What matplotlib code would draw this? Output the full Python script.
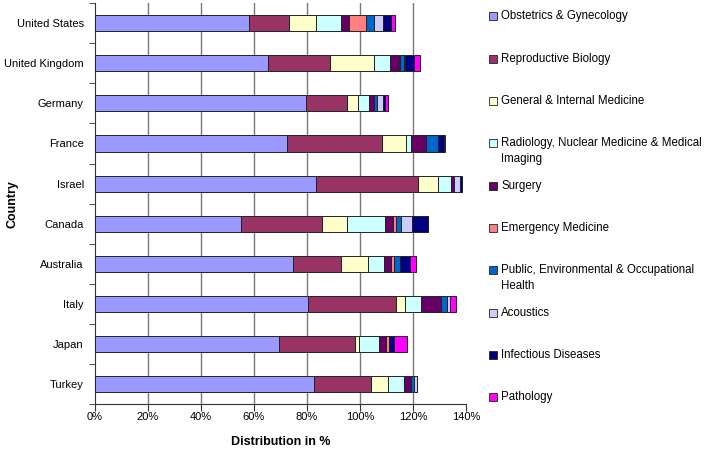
import numpy as np
import matplotlib
matplotlib.use('Agg')
import matplotlib.pyplot as plt
from matplotlib.patches import Rectangle
from matplotlib.ticker import FuncFormatter, FixedLocator

plt.rcParams['font.family'] = ['Liberation Sans', 'DejaVu Sans']

countries = ['United States', 'United Kingdom', 'Germany', 'France', 'Israel',
             'Canada', 'Australia', 'Italy', 'Japan', 'Turkey']

fields = ['Obstetrics & Gynecology', 'Reproductive Biology',
          'General & Internal Medicine',
          'Radiology, Nuclear Medicine & Medical\nImaging', 'Surgery',
          'Emergency Medicine',
          'Public, Environmental & Occupational\nHealth', 'Acoustics',
          'Infectious Diseases', 'Pathology']

colors = ['#9999FF', '#993366', '#FFFFCC', '#CCFFFF', '#660066',
          '#FF8080', '#0066CC', '#CCCCFF', '#000080', '#FF00FF']

# distribution in % per country, one list per field (same order as countries)
obstetrics   = [58.1, 65.5, 79.8, 72.6, 83.5, 55.0, 74.7, 80.5, 69.3, 82.7]
reproductive = [15.3, 23.4, 15.3, 35.9, 38.4, 30.8, 18.3, 33.0, 29.0, 21.6]
general      = [10.1, 16.4, 4.1, 9.0, 7.5, 9.4, 10.0, 3.6, 1.2, 6.3]
radiology    = [9.5, 5.9, 4.1, 1.9, 5.1, 14.1, 6.0, 5.8, 7.7, 6.0]
surgery      = [2.9, 3.4, 2.0, 5.6, 1.2, 3.2, 2.8, 7.8, 2.8, 2.8]
emergency    = [6.3, 0.5, 0.0, 0.0, 0.0, 1.0, 0.9, 0.0, 1.0, 0.0]
public       = [3.2, 1.5, 1.1, 4.4, 0.0, 1.9, 2.5, 2.1, 0.0, 0.9]
acoustics    = [3.5, 0.4, 2.3, 0.0, 2.2, 4.4, 0.0, 1.3, 0.0, 1.2]
infectious   = [2.8, 3.6, 0.9, 2.2, 0.6, 6.1, 3.6, 0.0, 1.7, 0.0]
pathology    = [1.7, 2.2, 1.2, 0.7, 0.0, 0.0, 2.2, 2.3, 5.0, 0.0]

series = [obstetrics, reproductive, general, radiology, surgery,
          emergency, public, acoustics, infectious, pathology]

fig = plt.figure(figsize=(7.08, 4.5), dpi=100)
ax = fig.add_axes([0.134, 0.102, 0.524, 0.891])

y = np.arange(len(countries))
left = np.zeros(len(countries))
for vals, col, lab in zip(series, colors, fields):
    ax.barh(y, vals, left=left, height=0.4, color=col, edgecolor='#222222',
            linewidth=0.7, label=lab, zorder=3)
    left += np.array(vals)

ax.set_xlim(0, 140)
ax.set_ylim(len(countries) - 0.5, -0.5)
ax.set_xticks(np.arange(0, 141, 20))
ax.xaxis.set_major_formatter(FuncFormatter(lambda v, p: '%d%%' % v))
ax.set_yticks(y)
ax.set_yticklabels(countries, fontsize=8)
ax.yaxis.set_minor_locator(FixedLocator(np.arange(-0.5, len(countries), 1)))
ax.tick_params(axis='y', which='major', length=0, pad=8)
ax.tick_params(axis='y', which='minor', length=4, direction='out', color='#333333')
ax.tick_params(axis='x', length=5, direction='out', labelsize=8, pad=1, color='#333333')

for gx in np.arange(20, 121, 20):
    ax.axvline(gx, color='#777777', linewidth=1, zorder=1)

for s in ['top', 'right']:
    ax.spines[s].set_visible(False)
for s in ['left', 'bottom']:
    ax.spines[s].set_color('#333333')

ax.set_xlabel('Distribution in %', fontsize=9, fontweight='bold', labelpad=10)
ax.set_ylabel('Country', fontsize=9, fontweight='bold')
ax.yaxis.set_label_coords(-0.205, 0.5)

# legend on the right, entries at fixed spacing
top_y = 1 - 16.5 / 450
step = 42.3 / 450
for i, (lab, col) in enumerate(zip(fields, colors)):
    yy = top_y - i * step
    fig.patches.append(Rectangle((489 / 708, yy - 4 / 450), 8 / 708, 8 / 450,
                                 transform=fig.transFigure, facecolor=col,
                                 edgecolor='#222222', linewidth=0.6))
    fig.text(501 / 708, yy + 6 / 450, lab, fontsize=8.3, va='top', ha='left',
             linespacing=1.4)

fig.savefig('out.png', dpi=100)
